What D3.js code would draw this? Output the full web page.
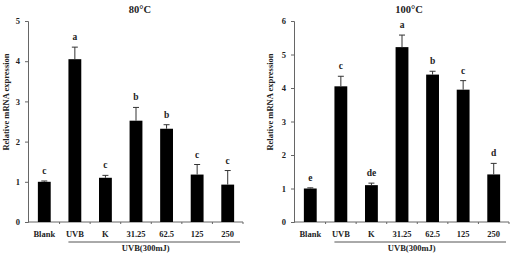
<!DOCTYPE html>
<html>
<head>
<meta charset="utf-8">
<script src="https://cdn.jsdelivr.net/npm/d3@7"></script>
<style>
  body { margin: 0; background: #fff; }
  svg text { font-family: "Liberation Serif", "DejaVu Serif", serif; font-weight: bold; fill: #222; }
</style>
</head>
<body>
<div id="chart"></div>
<script>
// Data
const categories = ["Blank", "UVB", "K", "31.25", "62.5", "125", "250"];

const values80 = [1.0, 4.05, 1.1, 2.52, 2.32, 1.18, 0.93];
const errors80 = [0.02, 0.3, 0.06, 0.33, 0.1, 0.25, 0.35];
const letters80 = ["c", "a", "c", "b", "b", "c", "c"];

const values100 = [1.0, 4.05, 1.1, 5.22, 4.4, 3.95, 1.42];
const errors100 = [0.02, 0.3, 0.06, 0.36, 0.1, 0.27, 0.33];
const letters100 = ["e", "c", "de", "a", "b", "c", "d"];

const width = 513, height = 253;

const svg = d3.select("#chart")
    .append("svg")
    .attr("width", width)
    .attr("height", height);

function drawPanel(opts) {
    const g = svg.append("g");

    const x = d3.scaleBand()
        .domain(categories)
        .range([opts.x0, opts.x1])
        .paddingInner(0.58)
        .paddingOuter(0.29);

    const y = d3.scaleLinear()
        .domain([0, opts.yMax])
        .range([222, 21]);

    // y axis
    const yAxis = g.append("g")
        .attr("transform", `translate(${opts.x0 - 1},0)`)
        .call(d3.axisLeft(y).ticks(opts.yMax).tickSize(3).tickPadding(5));
    yAxis.select(".domain").attr("stroke", "#666");
    yAxis.selectAll(".tick line").attr("stroke", "#666");
    yAxis.selectAll("text").style("font-size", "8.5px").attr("fill", "#222");

    // x axis line with boundary ticks
    g.append("line")
        .attr("x1", opts.x0 - 1).attr("x2", opts.x1)
        .attr("y1", 222).attr("y2", 222)
        .attr("stroke", "#666");
    const step = x.step();
    const bounds = categories.slice(1).map(c => x(c) - (step - x.bandwidth()) / 2);
    g.selectAll(".xtick")
        .data(bounds.concat([opts.x1]))
        .join("line")
        .attr("x1", d => d).attr("x2", d => d)
        .attr("y1", 222).attr("y2", 224)
        .attr("stroke", "#666");

    g.selectAll(".xlabel")
        .data(categories)
        .join("text")
        .attr("x", d => x(d) + x.bandwidth() / 2)
        .attr("y", 237)
        .attr("text-anchor", "middle")
        .style("font-size", "8.5px")
        .text(d => d);

    // bars
    g.selectAll(".bar")
        .data(opts.values)
        .join("rect")
        .attr("x", (d, i) => x(categories[i]))
        .attr("y", d => y(d))
        .attr("width", x.bandwidth())
        .attr("height", d => y(0) - y(d))
        .attr("fill", "#000");

    // error bars (upper only)
    const ex = i => x(categories[i]) + x.bandwidth() / 2;
    g.selectAll(".err")
        .data(opts.values)
        .join("line")
        .attr("x1", (d, i) => ex(i)).attr("x2", (d, i) => ex(i))
        .attr("y1", d => y(d))
        .attr("y2", (d, i) => y(d + opts.errors[i]))
        .attr("stroke", "#333");
    g.selectAll(".cap")
        .data(opts.values)
        .join("line")
        .attr("x1", (d, i) => ex(i) - 3).attr("x2", (d, i) => ex(i) + 3)
        .attr("y1", (d, i) => y(d + opts.errors[i]))
        .attr("y2", (d, i) => y(d + opts.errors[i]))
        .attr("stroke", "#333");

    // significance letters
    g.selectAll(".sig")
        .data(opts.letters)
        .join("text")
        .attr("x", (d, i) => ex(i))
        .attr("y", (d, i) => y(opts.values[i] + opts.errors[i]) - 7)
        .attr("text-anchor", "middle")
        .style("font-size", "9.5px")
        .text(d => d);

    // title
    g.append("text")
        .attr("x", opts.titleX)
        .attr("y", 13)
        .attr("text-anchor", "middle")
        .style("font-size", "10.5px")
        .text(opts.title);

    // y label
    g.append("text")
        .attr("transform", `translate(${opts.labelX},102) rotate(-90)`)
        .attr("text-anchor", "middle")
        .style("font-size", "8.5px")
        .text("Relative mRNA expression");

    // UVB group underline + label
    const ux0 = x("UVB");
    g.append("line")
        .attr("x1", ux0).attr("x2", opts.x1 - 3)
        .attr("y1", 242).attr("y2", 242)
        .attr("stroke", "#555");
    g.append("text")
        .attr("x", (ux0 + opts.x1) / 2 - 10)
        .attr("y", 251)
        .attr("text-anchor", "middle")
        .style("font-size", "8.5px")
        .text("UVB(300mJ)");
}

drawPanel({
    x0: 29, x1: 243, yMax: 5,
    values: values80, errors: errors80, letters: letters80,
    title: "80°C", titleX: 140, labelX: 9
});

drawPanel({
    x0: 295, x1: 509, yMax: 6,
    values: values100, errors: errors100, letters: letters100,
    title: "100°C", titleX: 409, labelX: 273
});
</script>
</body>
</html>
